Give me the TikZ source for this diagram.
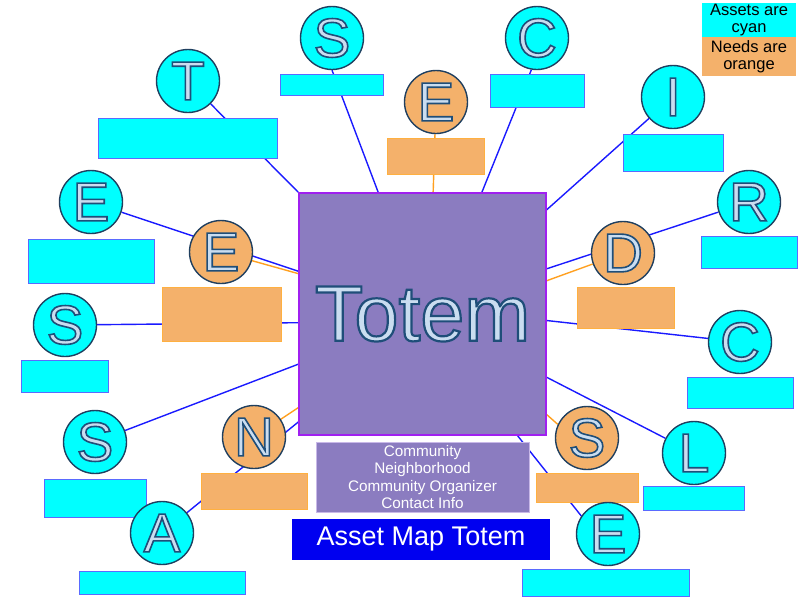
\documentclass[tikz,border=0pt]{standalone}
\usepackage{fontspec}
\setmainfont{Liberation Sans}
\usepackage{xcolor}
\usepackage{tikz}
\usetikzlibrary{backgrounds}
\definecolor{assetfill}{HTML}{00FFFF}
\definecolor{needfill}{HTML}{F4B16B}
\definecolor{ringedge}{HTML}{1F3F5F}
\definecolor{boxedge}{HTML}{5A6AFF}
\definecolor{neededge}{HTML}{FFB040}
\definecolor{linkblue}{HTML}{1A1AFF}
\definecolor{linkorange}{HTML}{FFA020}
\definecolor{letterfill}{HTML}{CADDF0}
\definecolor{totemfill}{HTML}{8B7CC0}
\definecolor{totemedge}{HTML}{A020F0}
\definecolor{infoedge}{HTML}{C8B8E8}
\definecolor{titlefill}{HTML}{0000F0}
% outlined letters: fill + stroke text rendering
\newcommand{\outl}[2][1.6]{\special{pdf:literal direct 2 Tr #1 w 0.122 0.306 0.475 RG}#2\special{pdf:literal direct 0 Tr}}

\begin{document}
\begin{tikzpicture}[x=1pt, y=-1pt,
  asset/.style={circle, draw=ringedge, line width=1.4pt, fill=assetfill,
    minimum size=63pt, inner sep=0pt, text=letterfill,
    font=\fontsize{55}{55}\selectfont},
  need/.style={asset, fill=needfill},
  assetbox/.style={draw=boxedge, fill=assetfill, line width=1pt, inner sep=0pt},
  needbox/.style={draw=neededge, fill=needfill, line width=1pt, inner sep=0pt},
  key/.style={minimum width=94pt, inner sep=0pt, align=center,
    font=\fontsize{16.5}{17.5}\selectfont},
  link/.style={draw=linkblue, line width=1.4pt},
  needlink/.style={draw=linkorange, line width=1.4pt}
]
\useasboundingbox (0,0) rectangle (800,600);

\node[draw=totemedge, line width=1.5pt, fill=totemfill, minimum width=247pt,
  minimum height=242pt, text=letterfill, font=\fontsize{79}{79}\selectfont]
  (totem) at (422.5,314) {\outl[2.2]{Totem}};
\node[draw=infoedge, line width=1pt, fill=totemfill, minimum width=213pt,
  minimum height=70pt, inner sep=0pt, align=center, text=white,
  font=\fontsize{15.3}{17.2}\selectfont] (info) at (422.5,477)
  {Community\\Neighborhood\\Community Organizer\\Contact Info};
\node[fill=titlefill, minimum width=258pt, minimum height=41pt, inner sep=0pt,
  text=white, font=\fontsize{27}{27}\selectfont] (title) at (421,539.5)
  {\raisebox{-2pt}{Asset Map Totem}};

\node[key, fill=assetfill, minimum height=34pt] (assetkey) at (749,20) {Assets are\\cyan};
\node[key, fill=needfill, minimum height=39pt] (needkey) at (749,56.5) {Needs are\\orange};

% label boxes
\node[assetbox, minimum width=103pt, minimum height=21pt] (S1box) at (331.5,84.5) {};
\node[needbox, minimum width=97pt, minimum height=36pt] (E1box) at (435.5,156) {};
\node[assetbox, minimum width=94pt, minimum height=33pt] (C1box) at (537,90.5) {};
\node[assetbox, minimum width=100pt, minimum height=37pt] (Ibox) at (673,152.5) {};
\node[assetbox, minimum width=96pt, minimum height=32pt] (Rbox) at (749,252) {};
\node[needbox, minimum width=97pt, minimum height=41pt] (Dbox) at (625.5,307.5) {};
\node[assetbox, minimum width=106pt, minimum height=31pt] (C2box) at (740,392.5) {};
\node[needbox, minimum width=102pt, minimum height=29pt] (S2box) at (587,487.5) {};
\node[assetbox, minimum width=101pt, minimum height=24pt] (Lbox) at (693.5,498) {};
\node[assetbox, minimum width=167pt, minimum height=27pt] (E2box) at (605.5,582.5) {};
\node[assetbox, minimum width=166pt, minimum height=23pt] (Abox) at (162,582.5) {};
\node[needbox, minimum width=106pt, minimum height=36pt] (Nbox) at (254,491) {};
\node[assetbox, minimum width=102pt, minimum height=38pt] (S3box) at (95,498) {};
\node[assetbox, minimum width=87pt, minimum height=32pt] (S4box) at (64.5,376) {};
\node[needbox, minimum width=119pt, minimum height=54pt] (E3box) at (221.5,314) {};
\node[assetbox, minimum width=126pt, minimum height=44pt] (E4box) at (91,261) {};
\node[assetbox, minimum width=179pt, minimum height=40pt] (Tbox) at (187.5,138) {};

% letters
\node[asset] (S1) at (332,38) {\outl{S}};
\node[need] (E1) at (436,102) {\outl{E}};
\node[asset] (C1) at (537,38) {\outl{C}};
\node[asset] (I) at (673,97) {\outl{I}};
\node[asset] (R) at (749,202) {\outl{R}};
\node[need] (D) at (623,253) {\outl{D}};
\node[asset] (C2) at (740,342) {\outl{C}};
\node[need] (S2) at (587,438) {\outl{S}};
\node[asset] (L) at (694,453) {\outl{L}};
\node[asset] (E2) at (608,534) {\outl{E}};
\node[asset] (A) at (162,533) {\outl{A}};
\node[need] (N) at (254,437) {\outl{N}};
\node[asset] (S3) at (95,442) {\outl{S}};
\node[asset] (S4) at (65,325) {\outl{S}};
\node[need] (E3) at (221,252) {\outl{E}};
\node[asset] (E4) at (91,202) {\outl{E}};
\node[asset] (T) at (188,81) {\outl{T}};

\begin{scope}[on background layer]
\draw[link] (T) -- (totem.north west);
\draw[link] (S1.south) -- (totem.110.2);
\draw[needlink] (E1) -- (totem.85);
\draw[link] (C1.-100) -- (totem.64.2);
\draw[link] (I) -- (totem.40.1);
\draw[link] (R) -- (totem.20);
\draw[needlink] (D) -- (totem.15.4);
\draw[link] (C2) -- (totem.-3.7);
\draw[needlink] (S2.155) -- (totem.-39);
\draw[link] (L) -- (totem.-27);
\draw[link] (E2.146) -- (totem.-52);
\draw[link] (A) -- (totem.221.1);
\draw[needlink] (N) -- (totem.217.8);
\draw[link] (S3) -- (totem.202.2);
\draw[link] (S4) -- (totem.184.2);
\draw[needlink] (E3) -- (totem.162.3);
\draw[link] (E4) -- (totem.161.1);
\end{scope}
\end{tikzpicture}
\end{document}
